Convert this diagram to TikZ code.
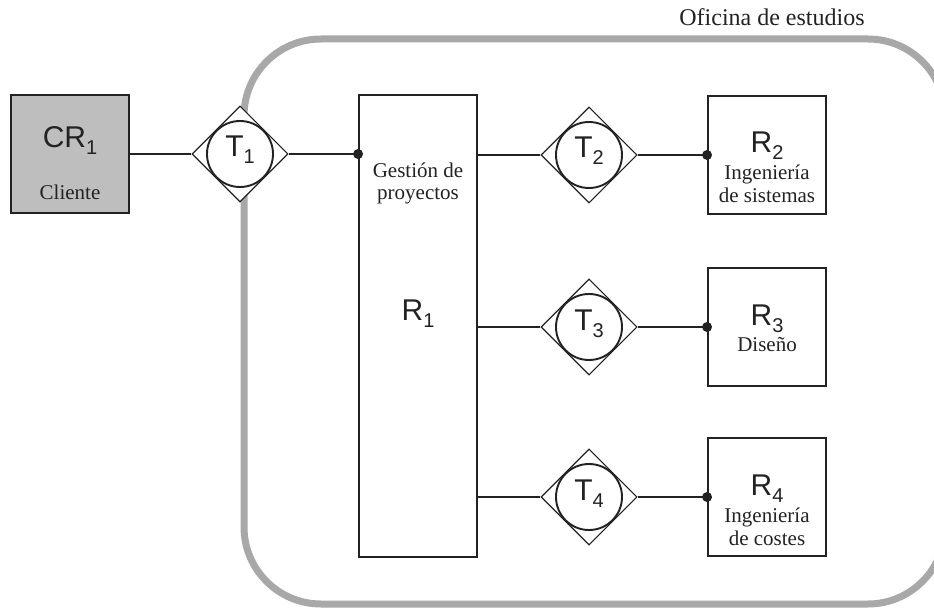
\documentclass[tikz,border=0pt]{standalone}
\usepackage{fontspec}
\setmainfont{Liberation Serif}
\setsansfont{Liberation Sans}
\usetikzlibrary{shapes.geometric,calc}

\definecolor{linec}{HTML}{222222}
\definecolor{framec}{HTML}{A8A8A8}
\definecolor{clientc}{HTML}{BEBEBE}

% Sans-serif symbol with a lowered index, e.g. R_1, T_2
\newcommand{\symidx}[2]{{\sffamily\fontsize{30}{32}\selectfont #1\raisebox{-7pt}{\fontsize{20}{21}\selectfont #2}}}

\tikzset{
  frame/.style={draw=framec, line width=7pt, rounded corners=77pt},
  rbox/.style={draw=linec, line width=1.9pt, minimum width=118pt, minimum height=118pt, inner sep=0pt},
  tdiam/.style={diamond, aspect=1, draw=linec, line width=1.1pt, fill=white,
                minimum width=96pt, minimum height=96pt, inner sep=0pt},
  tcirc/.style={circle, draw=linec, line width=1.9pt, minimum size=66pt, inner sep=0pt},
  conn/.style={draw=linec, line width=1.9pt},
  dot/.style={circle, fill=linec, inner sep=0pt, minimum size=10pt},
  lab/.style={font=\fontsize{21}{23}\selectfont, anchor=base, inner sep=0pt, text=linec},
  sym/.style={anchor=base, inner sep=0pt, text=linec},
}

\begin{document}
\begin{tikzpicture}[x=1pt, y=-1pt]
\useasboundingbox (0,0) rectangle (934,612);

% office boundary (its right side runs past the page edge)
\draw[frame] (244,39) rectangle (945,604);
\node[font=\fontsize{24}{26}\selectfont, anchor=base, inner sep=0pt, text=linec] (title) at (772,26) {Oficina de estudios};

% client
\node[rbox, fill=clientc] (CR1) at (70,154) {};
\node[sym] (CR1s) at ($(CR1)+(0,-6)$) {\symidx{CR}{1}};
\node[lab] (CR1l) at ($(CR1)+(0,46)$) {Cliente};

% project management
\node[rbox, minimum height=462pt] (R1) at (418,326) {};
\node[lab] (R1a) at (418,178) {Gestión de};
\node[lab] (R1b) at (418,200) {proyectos};
\node[sym] (R1s) at (418,320) {\symidx{R}{1}};

% departments
\node[rbox] (R2) at (767,155) {};
\node[sym] (R2s) at ($(R2)+(0,-2)$) {\symidx{R}{2}};
\node[lab] (R2a) at ($(R2)+(0,25)$) {Ingeniería};
\node[lab] (R2b) at ($(R2)+(0,48)$) {de sistemas};

\node[rbox] (R3) at (767,327) {};
\node[sym] (R3s) at ($(R3)+(0,-2)$) {\symidx{R}{3}};
\node[lab] (R3a) at ($(R3)+(0,24)$) {Diseño};

\node[rbox] (R4) at (767,497) {};
\node[sym] (R4s) at ($(R4)+(0,-2)$) {\symidx{R}{4}};
\node[lab] (R4a) at ($(R4)+(0,25)$) {Ingeniería};
\node[lab] (R4b) at ($(R4)+(0,48)$) {de costes};

% transactions
\foreach \i/\x/\y in {1/240/154, 2/589/155, 3/589/327, 4/589/497}{
  \node[tdiam] (T\i) at (\x,\y) {};
  \node[tcirc] (C\i) at (T\i) {};
  \node[sym] (T\i s) at ($(T\i)+(0,3)$) {\symidx{T}{\i}};
}

% connectors
\draw[conn] (CR1.east) -- (T1.west);
\draw[conn] (T1.east) -- (T1.east -| R1.west) node[dot] {};
\foreach \i in {2,3,4}{
  \draw[conn] (T\i.west -| R1.east) -- (T\i.west);
  \draw[conn] (T\i.east) -- (R\i.west) node[dot] {};
}
\end{tikzpicture}
\end{document}
